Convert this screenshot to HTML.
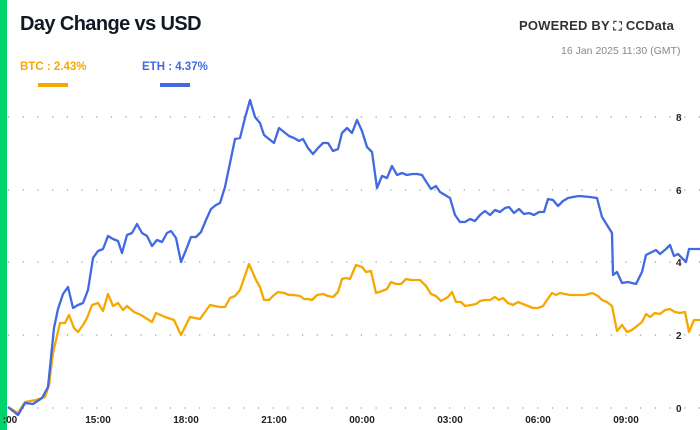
<!DOCTYPE html>
<html><head><meta charset="utf-8"><style>
html,body{margin:0;padding:0;background:#fff;}
body{width:700px;height:430px;position:relative;overflow:hidden;font-family:"Liberation Sans",sans-serif;}
.bar{position:absolute;left:0;top:0;width:7px;height:430px;background:#00d46a;}
.t{position:absolute;white-space:nowrap;}
</style></head><body>
<div class="bar"></div>
<div class="t" style="left:20px;top:13px;font-size:20px;font-weight:bold;color:#111a24;letter-spacing:-0.6px;">Day Change vs USD</div>
<div class="t" style="left:519px;top:18px;font-size:13px;font-weight:bold;color:#333;letter-spacing:0.2px;">POWERED BY <span style="font-size:12px">⛶</span> CCData</div>
<div class="t" style="left:561px;top:45px;font-size:10.5px;color:#888;">16 Jan 2025 11:30 (GMT)</div>
<div class="t" style="left:20px;top:61px;font-size:11.5px;font-weight:bold;color:#f5a800;">BTC : 2.43%</div>
<div class="t" style="left:142px;top:61px;font-size:11.5px;font-weight:bold;color:#4169e1;">ETH : 4.37%</div>
<div style="position:absolute;left:38px;top:83px;width:30px;height:4px;background:#f5a800"></div>
<div style="position:absolute;left:160px;top:83px;width:30px;height:4px;background:#4169e1"></div>
<svg width="700" height="430" style="position:absolute;left:0;top:0" xmlns="http://www.w3.org/2000/svg">
<g stroke="#999" stroke-width="1.2" stroke-dasharray="1.2 13.5">
<line x1="8" y1="408" x2="700" y2="408"/><line x1="8" y1="335" x2="700" y2="335"/>
<line x1="8" y1="262" x2="700" y2="262"/><line x1="8" y1="190" x2="700" y2="190"/>
<line x1="8" y1="117" x2="700" y2="117"/>
</g>
<polyline fill="none" stroke="#f5a800" stroke-width="2.3" stroke-linejoin="round" points="8,407 18,413 25,402 36,400 45,397 49,385 53,353 56,340 60,323 65,323 69,315 74,328 78,332 83,325 87,318 92,305 98,303 103,311 108,294 113,306 118,303 123,310 127,306 134,312 141,315 152,322 156,313 165,317 174,320 181,335 190,317 200,319 210,305 220,307 225,307 230,298 235,296 240,290 249,264 256,280 260,287 264,300 269,300 273,296 278,292 284,293 289,295 294,295 300,296 304,299 308,299 312,300 317,295 323,294 328,296 333,297 338,292 342,279 346,278 350,279 356,265 362,267 366,272 371,271 376,293 382,291 387,289 391,282 396,284 401,284 406,279 411,280 420,280 426,286 431,294 436,296 441,301 448,297 452,292 456,302 461,302 465,306 471,305 476,304 480,301 485,300 490,300 495,297 499,300 503,298 508,303 513,305 518,302 523,304 528,306 533,308 538,308 543,306 547,300 552,293 556,295 560,293 570,295 585,295 592,293 598,296 602,300 607,302 612,306 617,331 622,325 627,332 632,330 637,326 642,322 646,314 650,317 655,313 660,314 665,310 670,309 675,312 680,313 685,312 689,332 694,320 700,320"/>
<polyline fill="none" stroke="#4169e1" stroke-width="2.3" stroke-linejoin="round" points="8,407 18,415 25,403 33,404 42,398 48,387 54,328 58,309 63,294 68,287 73,308 78,305 83,303 88,290 93,258 98,251 103,249 108,236 113,239 118,241 122,253 127,235 132,233 137,224 142,233 147,236 152,246 157,240 162,242 167,233 171,231 176,238 181,262 186,250 191,237 196,237 201,232 206,220 211,209 216,205 220,203 225,187 230,163 235,139 240,138 245,118 250,100 255,117 260,123 264,135 269,139 274,143 279,128 284,132 289,136 294,138 299,141 303,139 308,148 313,154 318,148 323,143 328,143 333,151 338,149 342,133 347,128 352,133 357,120 362,131 367,147 372,152 377,188 382,176 387,178 392,166 397,175 402,173 407,175 412,174 417,174 422,175 427,183 431,189 436,186 440,192 445,195 450,198 455,215 460,222 465,222 470,219 475,221 480,215 485,211 490,215 495,210 500,212 505,208 509,207 514,213 519,209 524,214 529,213 534,215 539,212 544,212 548,199 553,200 558,206 563,201 568,198 573,197 579,196 590,197 597,198 602,217 612,233 613,275 617,272 622,283 628,282 636,284 642,272 646,255 652,252 656,250 660,254 666,249 670,245 674,256 678,254 686,262 689,249 700,249"/>
<g font-family="Liberation Sans, sans-serif" font-size="10" font-weight="bold" fill="#222">
<text x="676" y="121">8</text><text x="676" y="194">6</text><text x="676" y="266">4</text><text x="676" y="339">2</text><text x="676" y="412">0</text>
<g text-anchor="middle">
<text x="10" y="423">:00</text><text x="98" y="423">15:00</text><text x="186" y="423">18:00</text><text x="274" y="423">21:00</text><text x="362" y="423">00:00</text><text x="450" y="423">03:00</text><text x="538" y="423">06:00</text><text x="626" y="423">09:00</text>
</g></g>
</svg>
</body></html>
